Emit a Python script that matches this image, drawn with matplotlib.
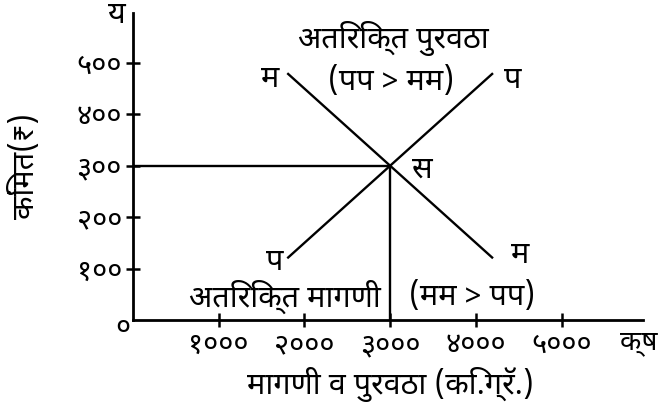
import matplotlib
matplotlib.use('Agg')
import matplotlib.pyplot as plt

FONT = ['Noto Sans Devanagari', 'DejaVu Sans']
plt.rcParams['font.family'] = FONT

# data
x_ticks = [1000, 2000, 3000, 4000, 5000]
x_tick_labels = ['१०००', '२०००', '३०००', '४०००', '५०००']
y_ticks = [100, 200, 300, 400, 500]
y_tick_labels = ['१००', '२००', '३००', '४००', '५००']
demand_x = [1800, 4200]
demand_y = [480, 120]
supply_x = [1800, 4200]
supply_y = [120, 480]
eq_x, eq_y = 3000, 300

fig = plt.figure(figsize=(6.59, 4.09), dpi=100)
ax = fig.add_axes([133/659, 89/409, 510/659, 307/409])
ax.set_xlim(0, 5950)
ax.set_ylim(0, 597)

for s in ['top', 'right']:
    ax.spines[s].set_visible(False)
for s in ['left', 'bottom']:
    ax.spines[s].set_linewidth(2.0)

ax.set_xticks(x_ticks)
ax.set_xticklabels(x_tick_labels, fontsize=21)
ax.set_yticks(y_ticks)
ax.set_yticklabels(y_tick_labels, fontsize=21)
ax.tick_params(axis='both', direction='inout', length=10, width=1.8, colors='black')
ax.tick_params(axis='x', pad=3)
ax.tick_params(axis='y', pad=3)

# demand and supply lines
ax.plot(demand_x, demand_y, color='black', lw=1.7, solid_capstyle='butt')
ax.plot(supply_x, supply_y, color='black', lw=1.7, solid_capstyle='butt')
# equilibrium guides
ax.plot([0, eq_x], [eq_y, eq_y], color='black', lw=1.7)
ax.plot([eq_x, eq_x], [0, eq_y], color='black', lw=1.7)

tkw = dict(fontsize=22, color='black', ha='center', va='center')
ax.text(3033, 548, 'अतिरिक्त पुरवठा', **tkw)
ax.text(3010, 463, '(पप > मम)', **tkw)
ax.text(1598, 469, 'म', **tkw)
ax.text(4433, 467, 'प', **tkw)
ax.text(3372, 292, 'स', **tkw)
ax.text(1657, 113, 'प', **tkw)
ax.text(4515, 126, 'म', **tkw)
ax.text(1773, 45, 'अतिरिक्त मागणी', **tkw)
ax.text(3955, 45, '(मम > पप)', **tkw)

ax.text(-117, -16, '०', fontsize=21, ha='center', va='center')
ax.text(-187, 593, 'य', fontsize=22, ha='center', va='center')
fig.text(657/659, 1 - 342/409, 'क्ष', fontsize=20, ha='right', va='center')

fig.text(25/659, 1 - 166/409, 'किंमत(₹)', fontsize=22, rotation=90,
         ha='center', va='center')
fig.text(390/659, 1 - 385/409, 'मागणी व पुरवठा (कि.ग्रॅ.)', fontsize=22,
         ha='center', va='center')

fig.savefig('out.png', dpi=100)
